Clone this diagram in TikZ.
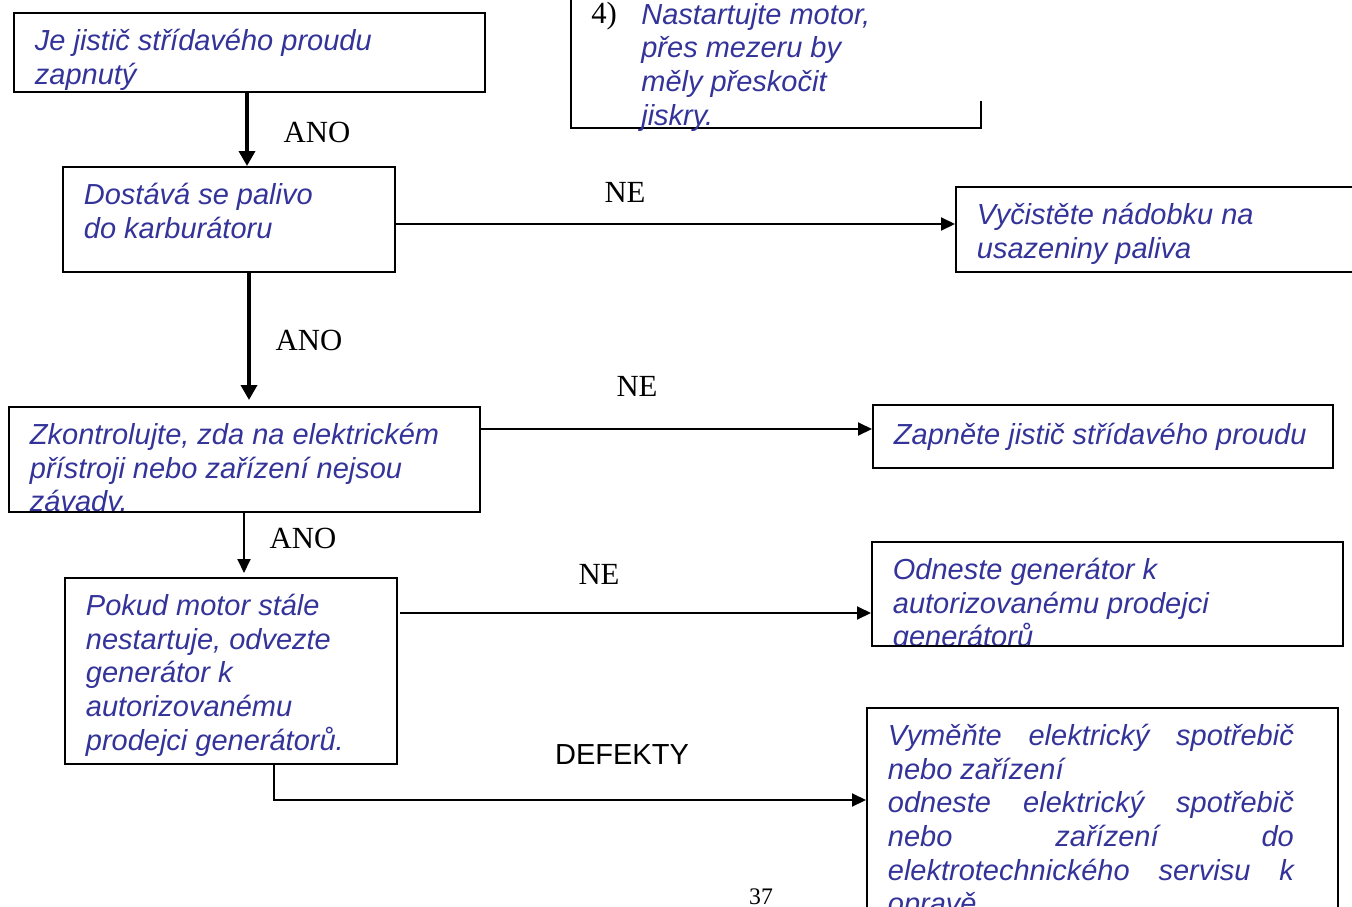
\documentclass[tikz,border=0pt]{standalone}
\usepackage{fontspec}
\setmainfont{Liberation Serif}
\newfontfamily\arialfont{Liberation Sans}
\usetikzlibrary{arrows.meta}
\definecolor{textblue}{RGB}{51,51,153}

\begin{document}
\begin{tikzpicture}[x=0.02cm, y=-0.02cm, >={Triangle[length=0.28cm,width=0.26cm]},
    every node/.style={inner sep=0pt},
    txt/.style={font=\arialfont\itshape\fontsize{16.5}{19.1}\selectfont, text=textblue,
        align=left, anchor=north west, minimum width=0pt, minimum height=0pt, execute at begin node=\strut},
    box/.style={draw, line width=1.1pt, anchor=north west,
        path picture={\node[txt] at ([shift={(0.4cm,-0.31cm)}]path picture bounding box.north west) {#1};}},
    answer/.style={font=\fontsize{17.5}{20}\selectfont},
    thick arrow/.style={->, line width=2pt, >={Triangle[length=0.3cm,width=0.32cm]}},
    thin arrow/.style={->, line width=1.1pt}]
            \useasboundingbox (0,0) rectangle (1352,906);
            \draw [line width=1.1pt] (571,-10) -- (571,128) -- (981,128) -- (981,101);
            \node [answer, anchor=base west] (num) at (591,23) {4)};
            \node [txt] (start) at (641,3) {Nastartujte motor,\\přes mezeru by\\měly přeskočit\\jiskry.};
            \node [box={Je jistič střídavého proudu\\zapnutý}, minimum width=9.42cm, minimum height=1.58cm] (jistic) at (13,12) {};
            \node [box={Dostává se palivo\\do karburátoru}, minimum width=6.64cm, minimum height=2.1cm] (palivo) at (62,166) {};
            \node [box={Vyčistěte nádobku na\\usazeniny paliva}, minimum width=8.14cm, minimum height=1.7cm] (cistit) at (955,186) {};
            \node [box={Zkontrolujte, zda na elektrickém\\přístroji nebo zařízení nejsou\\závady.}, minimum width=9.42cm, minimum height=2.1cm] (kontrola) at (8,406) {};
            \node [box={Zapněte jistič střídavého proudu}, minimum width=9.2cm, minimum height=1.26cm] (zapnout) at (872,404) {};
            \node [box={Pokud motor stále\\nestartuje, odvezte\\generátor k\\autorizovanému\\prodejci generátorů.}, minimum width=6.64cm, minimum height=3.72cm] (pokud) at (64,577) {};
            \node [box={Odneste generátor k\\autorizovanému prodejci\\generátorů}, minimum width=9.42cm, minimum height=2.08cm] (odnest) at (871,541) {};
            \node [box={\makebox[8.12cm][s]{Vyměňte elektrický spotřebič}\\nebo zařízení\\\makebox[8.12cm][s]{odneste elektrický spotřebič}\\\makebox[8.12cm][s]{nebo zařízení do}\\\makebox[8.12cm][s]{elektrotechnického servisu k}\\opravě.}, minimum width=9.42cm, minimum height=5.06cm] (vymenit) at (866,707) {};
            \draw [thick arrow] (jistic.south -| 247,0) -- (palivo.north -| 247,0);
            \draw [thick arrow, shorten >=0.12cm] (palivo.south -| 249,0) -- (kontrola.north -| 249,0);
            \draw [thin arrow, shorten >=0.08cm] (kontrola.south -| 244,0) -- (pokud.north -| 244,0);
            \draw [thin arrow] (palivo.east |- 0,224) -- (cistit.west |- 0,224);
            \draw [thin arrow] (kontrola.east |- 0,429) -- (zapnout.west |- 0,429);
            \draw [thin arrow, shorten <=0.04cm] (pokud.east |- 0,613) -- (odnest.west |- 0,613);
            \draw [thin arrow] (pokud.south -| 274,0) |- (vymenit.west |- 0,800);
            \node [answer] (ano1) at (317,132) {ANO};
            \node [answer] (ano2) at (309,340) {ANO};
            \node [answer] (ano3) at (303,538) {ANO};
            \node [answer] (ne1) at (625,192) {NE};
            \node [answer] (ne2) at (637,386) {NE};
            \node [answer] (ne3) at (599,574) {NE};
            \node [font=\arialfont\fontsize{16.5}{19}\selectfont] (defekty) at (622,755) {DEFEKTY};
            \node [font=\fontsize{13.5}{16}\selectfont, anchor=north] (strana) at (761,888) {37};
        \end{tikzpicture}
\end{document}
